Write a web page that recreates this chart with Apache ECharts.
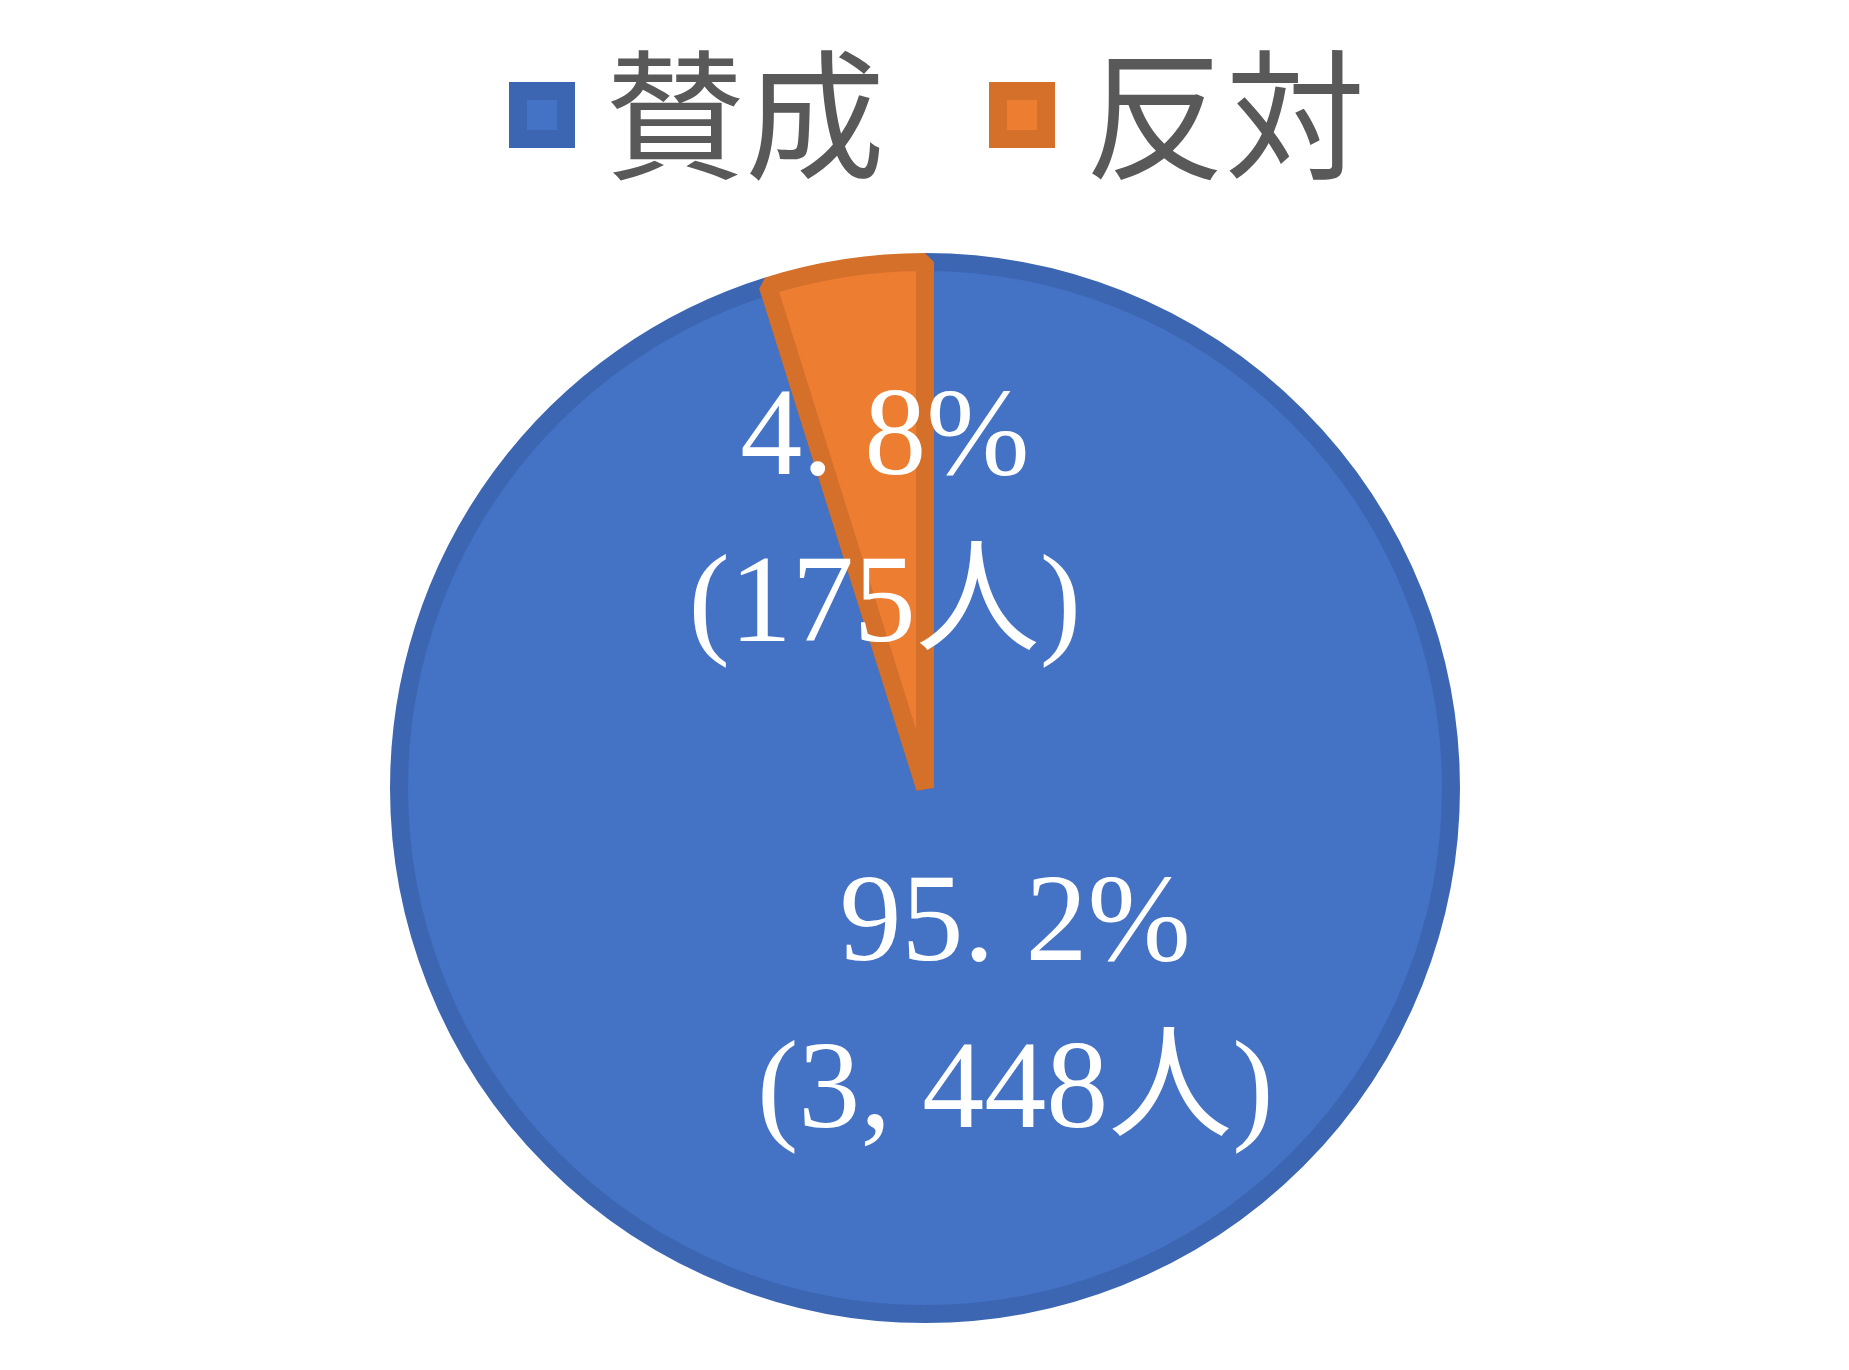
<!DOCTYPE html>
<html>
<head>
<meta charset="utf-8">
<script src="https://cdn.jsdelivr.net/npm/echarts@6/dist/echarts.min.js"></script>
<style>
html,body{margin:0;padding:0;background:#fff;}
#chart{width:1849px;height:1370px;}
</style>
</head>
<body>
<div id="chart"></div>
<script>
const categories = ['賛成', '反対'];
const values = [3448, 175];
const fillColors = ['#4472C4', '#ED7D31'];
const borderColors = ['#3D66B2', '#D5702B'];

function labelText(p) {
  const pct = p.percent.toFixed(1).replace('.', '. ');
  const cnt = p.value.toLocaleString('en-US').replace(',', ', ');
  return pct + '%\n(' + cnt + '人)';
}

const data = categories.map((name, i) => ({
  name: name,
  value: values[i],
  itemStyle: { color: fillColors[i], borderColor: borderColors[i] },
  label: i === 0 ? {
    padding: [0, 0, 0, 100],
    formatter: function (p) { return labelText(p) + '\n{s| }'; },
    rich: { s: { fontSize: 10, lineHeight: 80 } }
  } : {}
}));

const chart = echarts.init(document.getElementById('chart'));
chart.setOption({
  animation: false,
  legend: {
    data: categories,
    left: 504,
    top: 40,
    itemWidth: 48,
    itemHeight: 48,
    itemGap: 104,
    icon: 'rect',
    itemStyle: { borderWidth: 18, borderJoin: 'miter' },
    textStyle: {
      fontFamily: '"Noto Sans CJK JP", sans-serif',
      fontSize: 140,
      lineHeight: 140,
      color: '#595959',
      padding: [0, 0, 0, 34]
    }
  },
  series: [{
    type: 'pie',
    center: [925, 788],
    radius: 526,
    startAngle: 90,
    clockwise: true,
    data: data,
    itemStyle: { borderWidth: 18, borderJoin: 'bevel' },
    label: {
      show: true,
      position: 'inside',
      color: '#ffffff',
      fontFamily: '"Liberation Serif", "Noto Sans CJK JP", serif',
      fontSize: 124,
      lineHeight: 167,
      formatter: labelText
    },
    labelLine: { show: false },
    emphasis: { disabled: true }
  }]
});
</script>
</body>
</html>
